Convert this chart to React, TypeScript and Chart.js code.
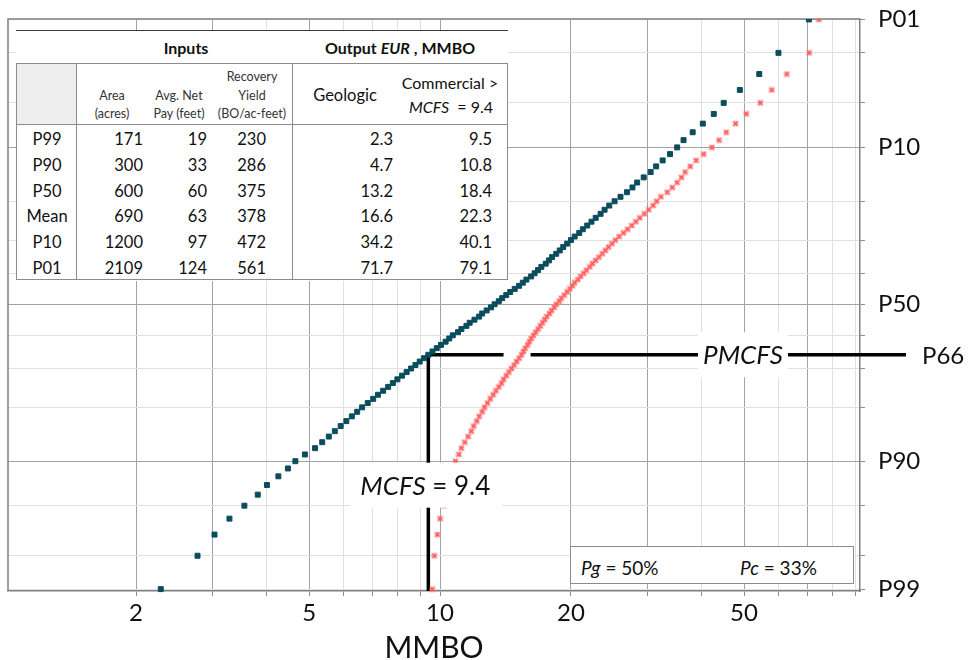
import React, { useEffect, useRef } from 'react';
import { Chart, registerables, LinearScale } from 'chart.js';

// ---------------- data ----------------
const exceedancePct = [
  1, 2, 3, 4, 5, 6, 7, 8, 9, 10, 11, 12, 13, 14, 15, 16, 17, 18, 19, 20,
  21, 22, 23, 24, 25, 26, 27, 28, 29, 30, 31, 32, 33, 34, 35, 36, 37, 38, 39, 40,
  41, 42, 43, 44, 45, 46, 47, 48, 49, 50, 51, 52, 53, 54, 55, 56, 57, 58, 59, 60,
  61, 62, 63, 64, 65, 66, 67, 68, 69, 70, 71, 72, 73, 74, 75, 76, 77, 78, 79, 80,
  81, 82, 83, 84, 85, 86, 87, 88, 89, 90, 91, 92, 93, 94, 95, 96, 97, 98, 99,
];
const geologicMMBO = [
  70.5, 60.0, 54.2, 48.9, 44.9, 42.6, 40.2, 38.1, 36.3, 35.1,
  33.8, 32.5, 31.4, 30.5, 29.4, 28.4, 27.7, 26.9, 26.0, 25.2,
  24.5, 23.9, 23.4, 22.8, 22.3, 21.8, 21.3, 20.9, 20.4, 20.0,
  19.6, 19.2, 18.85, 18.5, 18.1, 17.8, 17.5, 17.1, 16.8, 16.5,
  16.2, 15.8, 15.5, 15.2, 14.85, 14.5, 14.2, 13.9, 13.65, 13.35,
  13.1, 12.8, 12.5, 12.3, 12.0, 11.7, 11.5, 11.2, 11.0, 10.7,
  10.5, 10.3, 10.05, 9.83, 9.61, 9.4, 9.19, 8.98, 8.78, 8.58,
  8.38, 8.18, 7.98, 7.79, 7.6, 7.4, 7.2, 7.02, 6.82, 6.62,
  6.45, 6.27, 6.09, 5.91, 5.73, 5.55, 5.36, 5.16, 4.89, 4.65,
  4.47, 4.25, 4.0, 3.81, 3.55, 3.28, 3.03, 2.77, 2.28,
];
const commercialMMBO = [
  74.3, 70.6, 62.7, 57.9, 54.5, 50.6, 47.8, 45.5, 43.8, 42.2,
  40.4, 38.8, 37.6, 36.6, 35.9, 35.1, 34.2, 33.3, 32.2, 31.5,
  30.9, 30.2, 29.5, 28.8, 28.2, 27.6, 27.0, 26.4, 25.8, 25.3,
  24.85, 24.4, 24.0, 23.6, 23.2, 22.8, 22.4, 22.1, 21.7, 21.4,
  21.05, 20.75, 20.4, 20.15, 19.9, 19.6, 19.3, 19.0, 18.8, 18.5,
  18.3, 18.05, 17.85, 17.6, 17.4, 17.2, 17.0, 16.8, 16.6, 16.4,
  16.2, 16.05, 15.9, 15.7, 15.55, 15.4, 15.2, 15.0, 14.8, 14.6,
  14.4, 14.2, 14.0, 13.85, 13.65, 13.45, 13.25, 13.05, 12.85, 12.65,
  12.5, 12.3, 12.15, 11.95, 11.8, 11.6, 11.4, 11.2, 11.05, 10.85,
  10.75, 10.6, 10.5, 10.35, 10.2, 10.0, 9.86, 9.7, 9.6,
];

const xGridValues = [2, 3, 4, 5, 6, 7, 8, 9, 10, 20, 30, 40, 50, 60, 70, 80, 90];
const xDarkGrid = [2, 3, 5, 10, 20, 30, 50, 70];
const xTickLabels = [2, 5, 10, 20, 50];
const yGridPct = [1, 2, 5, 10, 20, 30, 40, 50, 60, 70, 80, 90, 95, 98, 99];
const yDarkGrid = [10, 50, 90];
const yTickLabels: Record<number, string> = { 1: 'P01', 10: 'P10', 50: 'P50', 90: 'P90', 99: 'P99' };

const mcfsMMBO = 9.4;
const pmcfsPct = 66;
const pmcfsLabel = 'P66';

const tableRowLabels = ['P99', 'P90', 'P50', 'Mean', 'P10', 'P01'];
const areaAcres = ['171', '300', '600', '690', '1200', '2109'];
const netPayFeet = ['19', '33', '60', '63', '97', '124'];
const recoveryYield = ['230', '286', '375', '378', '472', '561'];
const geologicEUR = ['2.3', '4.7', '13.2', '16.6', '34.2', '71.7'];
const commercialEUR = ['9.5', '10.8', '18.4', '22.3', '40.1', '79.1'];
const pgPct = 50;
const pcPct = 33;

const FONT = 'Lato, "Open Sans", sans-serif';

// inverse standard normal CDF (Acklam) for the probability-paper axis
function normInv(p: number): number {
  const a = [-3.969683028665376e1, 2.209460984245205e2, -2.759285104469687e2, 1.38357751867269e2, -3.066479806614716e1, 2.506628277459239];
  const b = [-5.447609879822406e1, 1.615858368580409e2, -1.556989798598866e2, 6.680131188771972e1, -1.328068155288572e1];
  const c = [-7.784894002430293e-3, -3.223964580411365e-1, -2.400758277161838, -2.549732539343734, 4.374664141464968, 2.938163982698783];
  const d = [7.784695709041462e-3, 3.224671290700398e-1, 2.445134137142996, 3.754408661907416];
  const pl = 0.02425;
  if (p < pl) {
    const q = Math.sqrt(-2 * Math.log(p));
    return (((((c[0] * q + c[1]) * q + c[2]) * q + c[3]) * q + c[4]) * q + c[5]) / ((((d[0] * q + d[1]) * q + d[2]) * q + d[3]) * q + 1);
  }
  if (p <= 1 - pl) {
    const q = p - 0.5;
    const r = q * q;
    return ((((((a[0] * r + a[1]) * r + a[2]) * r + a[3]) * r + a[4]) * r + a[5]) * q) / (((((b[0] * r + b[1]) * r + b[2]) * r + b[3]) * r + b[4]) * r + 1);
  }
  const q = Math.sqrt(-2 * Math.log(1 - p));
  return -(((((c[0] * q + c[1]) * q + c[2]) * q + c[3]) * q + c[4]) * q + c[5]) / ((((d[0] * q + d[1]) * q + d[2]) * q + d[3]) * q + 1);
}

class ProbabilityScale extends LinearScale {
  static id = 'probability';
  getPixelForValue(value: number) {
    const zTop = normInv(1 - (this as any).min / 100);
    const zBottom = normInv(1 - (this as any).max / 100);
    const z = normInv(1 - value / 100);
    return this.getPixelForDecimal((z - zBottom) / (zTop - zBottom));
  }
}

Chart.register(...registerables, ProbabilityScale as any);

const annotationPlugin = {
  id: 'mcfsAnnotations',
  beforeDatasetsDraw(chart: any) {
    const { ctx, chartArea: a, scales } = chart;
    const x = scales.x;
    const y = scales.y;
    ctx.save();
    ctx.strokeStyle = '#808080';
    ctx.lineWidth = 1.5;
    ctx.beginPath();
    ctx.moveTo(a.left, a.bottom);
    ctx.lineTo(a.left, a.top);
    ctx.lineTo(a.right, a.top);
    ctx.stroke();

    const xm = x.getPixelForValue(mcfsMMBO);
    const yp = y.getPixelForValue(pmcfsPct);
    const xc = x.getPixelForValue(commercialMMBO[exceedancePct.indexOf(pmcfsPct)]);
    ctx.strokeStyle = '#000';
    ctx.lineWidth = 3.5;
    ctx.beginPath();
    ctx.moveTo(xm, a.bottom);
    ctx.lineTo(xm, yp - 1.75);
    ctx.moveTo(xm - 1.75, yp);
    ctx.lineTo(xc - 18, yp);
    ctx.moveTo(xc + 9, yp);
    ctx.lineTo(a.right + 46, yp);
    ctx.stroke();
    ctx.restore();
  },
  afterDatasetsDraw(chart: any) {
    const { ctx, chartArea: a, scales } = chart;
    const x = scales.x;
    const y = scales.y;
    const xm = x.getPixelForValue(mcfsMMBO);
    const yp = y.getPixelForValue(pmcfsPct);
    const y90 = y.getPixelForValue(90);
    ctx.save();
    ctx.fillStyle = '#fff';
    ctx.fillRect(xm - 78, y90 + 1.5, 152, 45);
    ctx.fillStyle = '#111';
    ctx.textBaseline = 'middle';
    ctx.textAlign = 'left';
    ctx.font = `italic 26px ${FONT}`;
    const w1 = ctx.measureText('MCFS').width;
    const lx = xm - 68;
    const ly = y90 + 25;
    ctx.fillText('MCFS', lx, ly);
    ctx.font = `26px ${FONT}`;
    ctx.fillText(` = ${mcfsMMBO}`, lx + w1, ly);

    const xp = x.getPixelForValue(50);
    ctx.fillStyle = '#fff';
    ctx.fillRect(xp - 46, yp - 22.5, 90, 45);
    ctx.fillStyle = '#111';
    ctx.textAlign = 'center';
    ctx.font = `italic 26px ${FONT}`;
    ctx.fillText('PMCFS', xp - 1, yp + 1);

    ctx.textAlign = 'left';
    ctx.font = `24px ${FONT}`;
    ctx.fillText(pmcfsLabel, a.right + 62, yp + 1);
    ctx.restore();
  },
};

function Txt(props: { x: number; y: number; align?: string; size?: number; weight?: number; color?: string; children: any }) {
  const { x, y, align = 'center', size = 16, weight = 400, color = '#111', children } = props;
  const tx = align === 'center' ? '-50%' : align === 'right' ? '-100%' : '0';
  return (
    <div
      style={{
        position: 'absolute',
        left: x,
        top: y,
        transform: `translate(${tx},-50%)`,
        fontSize: size,
        fontWeight: weight,
        lineHeight: 1,
        whiteSpace: 'nowrap',
        color,
      }}
    >
      {children}
    </div>
  );
}

export default function App() {
  const canvasRef = useRef<HTMLCanvasElement>(null);

  useEffect(() => {
    const canvas = canvasRef.current;
    if (!canvas) return;
    const marker = document.createElement('canvas');
    marker.width = 7;
    marker.height = 7;
    const g = marker.getContext('2d')!;
    g.fillStyle = 'rgba(255,140,140,0.5)';
    g.fillRect(0.5, 0.5, 6, 6);
    g.strokeStyle = '#ff4f4f';
    g.lineWidth = 1.4;
    g.beginPath();
    g.moveTo(1.5, 1.5);
    g.lineTo(5.5, 5.5);
    g.moveTo(5.5, 1.5);
    g.lineTo(1.5, 5.5);
    g.stroke();

    const gridColor = (dark: number[]) => (ctx: any) =>
      ctx.tick && dark.includes(ctx.tick.value) ? '#a3a3a3' : '#e0e0e0';

    const chart = new Chart(canvas, {
      type: 'scatter',
      data: {
        datasets: [
          {
            label: 'Geologic',
            data: exceedancePct.map((p, i) => ({ x: geologicMMBO[i], y: p })),
            pointStyle: 'rect',
            pointRadius: 3.5,
            pointBorderWidth: 1,
            pointBackgroundColor: '#0b4c5d',
            pointBorderColor: '#0b4c5d',
            clip: { left: 8, right: 8, top: 0, bottom: 8 },
          },
          {
            label: 'Commercial',
            data: exceedancePct.map((p, i) => ({ x: commercialMMBO[i], y: p })),
            pointStyle: marker,
            pointRadius: 3.5,
            clip: { left: 8, right: 8, top: 0, bottom: 8 },
          },
        ],
      } as any,
      options: {
        responsive: false,
        animation: false,
        events: [],
        layout: { padding: { left: 8, top: 19, right: 0, bottom: 0 } },
        plugins: {
          legend: { display: false },
          tooltip: { enabled: false },
          title: { display: false },
        },
        scales: {
          x: {
            type: 'logarithmic',
            position: 'bottom',
            min: 1.0155,
            max: 92.4,
            bounds: 'data',
            afterBuildTicks: (axis: any) => {
              axis.ticks = xGridValues.map((v) => ({ value: v }));
            },
            afterFit: (axis: any) => {
              axis.height = 69;
              axis.paddingLeft = 0;
              axis.paddingRight = 0;
              axis.paddingTop = 0;
              axis.paddingBottom = 0;
            },
            ticks: {
              autoSkip: false,
              maxRotation: 0,
              minRotation: 0,
              padding: 3,
              color: '#111',
              font: { family: FONT, size: 24 },
              callback: (v: any) => (xTickLabels.includes(Number(v)) ? String(v) : ''),
            },
            grid: {
              color: gridColor(xDarkGrid),
              lineWidth: 1,
              drawTicks: true,
              tickLength: 5,
              tickColor: '#8a8a8a',
            },
            border: { display: true, color: '#808080', width: 1.5 },
            title: {
              display: true,
              text: 'MMBO',
              color: '#111',
              font: { family: FONT, size: 30, lineHeight: 0.8 },
              padding: 0,
            },
          },
          y: {
            type: 'probability',
            position: 'right',
            min: 0.99,
            max: 99.04,
            bounds: 'data',
            afterBuildTicks: (axis: any) => {
              axis.ticks = yGridPct.map((v) => ({ value: v }));
            },
            afterFit: (axis: any) => {
              axis.width = 108;
              axis.paddingLeft = 0;
              axis.paddingRight = 0;
              axis.paddingTop = 0;
              axis.paddingBottom = 0;
            },
            ticks: {
              autoSkip: false,
              padding: 13,
              color: '#111',
              font: { family: FONT, size: 24 },
              callback: (v: any) => yTickLabels[Number(v)] ?? '',
            },
            grid: {
              color: gridColor(yDarkGrid),
              lineWidth: 1,
              drawTicks: true,
              tickLength: 5,
              tickColor: '#8a8a8a',
            },
            border: { display: true, color: '#808080', width: 1.5 },
          },
        } as any,
      },
      plugins: [annotationPlugin],
    } as any);
    return () => chart.destroy();
  }, []);

  const rowY = (i: number) => 108 + i * 25.8;
  const colRight = [127, 191, 250, 377, 476];
  const cols = [areaAcres, netPayFeet, recoveryYield, geologicEUR, commercialEUR];

  return (
    <div style={{ position: 'absolute', left: 0, top: 0, width: 968, height: 660, background: '#fff', fontFamily: FONT, overflow: 'hidden' }}>
      <canvas ref={canvasRef} width={968} height={660} style={{ position: 'absolute', left: 0, top: 0, width: 968, height: 660 }} />

      {/* input / output table */}
      <div style={{ position: 'absolute', left: 16, top: 31, width: 492, height: 250, background: '#fff' }}>
        <div style={{ position: 'absolute', left: 0, top: -1, width: 492, height: 0, borderTop: '1.5px solid #3a3a3a' }} />
        <Txt x={170} y={17} size={16} weight={700}>Inputs</Txt>
        <Txt x={384} y={17} size={16} weight={700}>
          Output <i>EUR</i> , MMBO
        </Txt>
        <div style={{ position: 'absolute', left: 0, top: 32, width: 61, height: 62, background: '#eeeeee' }} />
        <div style={{ position: 'absolute', left: 0, top: 32, width: 492, height: 217, border: '1.5px solid #8c8c8c', boxSizing: 'border-box' }} />
        <div style={{ position: 'absolute', left: 60, top: 32, width: 0, height: 217, borderLeft: '1.5px solid #8c8c8c' }} />
        <div style={{ position: 'absolute', left: 276, top: 32, width: 0, height: 217, borderLeft: '1.5px solid #8c8c8c' }} />
        <div style={{ position: 'absolute', left: 0, top: 93, width: 492, height: 0, borderTop: '1.5px solid #8c8c8c' }} />

        <Txt x={96} y={65} size={12.5} color="#333">Area</Txt>
        <Txt x={96} y={83} size={12.5} color="#333">(acres)</Txt>
        <Txt x={163} y={65} size={12.5} color="#333">Avg. Net</Txt>
        <Txt x={163} y={83} size={12.5} color="#333">Pay (feet)</Txt>
        <Txt x={236} y={46} size={12.5} color="#333">Recovery</Txt>
        <Txt x={236} y={65} size={12.5} color="#333">Yield</Txt>
        <Txt x={236} y={83} size={12.5} color="#333">(BO/ac-feet)</Txt>
        <Txt x={329} y={64} size={16.5}>Geologic</Txt>
        <Txt x={434} y={52} size={16}>Commercial &gt;</Txt>
        <Txt x={477} y={76} size={16} align="right">
          <i>MCFS</i>&nbsp; = 9.4
        </Txt>

        {tableRowLabels.map((lab, i) => (
          <Txt key={'l' + i} x={31} y={rowY(i)} size={16.5}>{lab}</Txt>
        ))}
        {cols.map((col, c) =>
          col.map((v, i) => (
            <Txt key={c + '-' + i} x={colRight[c]} y={rowY(i)} size={16.5} align="right">{v}</Txt>
          ))
        )}
      </div>

      {/* Pg / Pc box */}
      <div style={{ position: 'absolute', left: 570, top: 546, width: 284, height: 38, border: '1px solid #8c8c8c', boxSizing: 'border-box', background: '#fff' }}>
        <Txt x={10} y={20} size={19} align="left">
          <i>Pg</i> = {pgPct}%
        </Txt>
        <Txt x={169} y={20} size={19} align="left">
          <i>Pc</i> = {pcPct}%
        </Txt>
      </div>
    </div>
  );
}
